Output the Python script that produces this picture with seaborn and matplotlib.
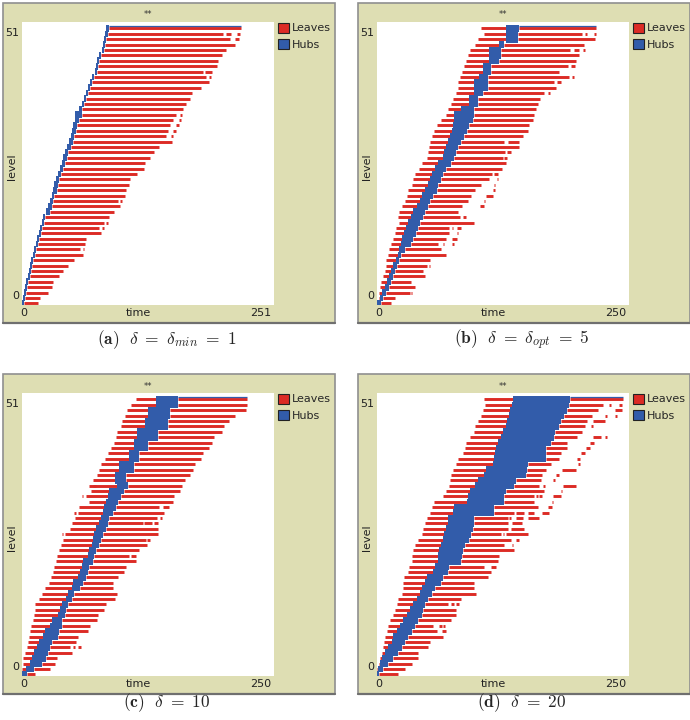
import numpy as np
import pandas as pd
import matplotlib
matplotlib.use("Agg")
import matplotlib.pyplot as plt
from matplotlib.patches import Rectangle, Patch
import seaborn as sns

# colours taken from the NetLogo plot
RED = '#DC2B25'
BLUE = '#325CAA'
KHAKI = '#DEDEB3'

# ---- panel (a): delta = delta_min = 1 (levels 0..51) ----
HUB_START_A = [0, 1, 2, 3, 4, 6, 7, 8, 9, 11, 12, 14, 15, 17, 18, 20, 21, 24, 26, 28, 30, 31, 32, 34, 36,
               38, 40, 41, 43, 45, 47, 49, 50, 51, 53, 53, 57, 60, 62, 64, 66, 68, 70, 73, 74, 75, 77, 80,
               81, 82, 83, 84]
HUB_END_A = [2, 3, 4, 5, 6, 8, 9, 10, 11, 13, 14, 16, 17, 19, 20, 22, 23, 28, 30, 31, 32, 35, 36, 37, 39,
             41, 43, 45, 46, 49, 51, 52, 54, 55, 57, 60, 60, 62, 64, 66, 68, 70, 72, 75, 76, 77, 79, 82,
             83, 84, 86, 87]
LEAF_END_A = [16, 18, 26, 30, 31, 37, 41, 46, 52, 61, 58, 63, 64, 79, 77, 82, 87, 92, 98, 96, 103, 104,
              107, 108, 115, 122, 123, 127, 131, 136, 149, 143, 145, 147, 150, 153, 160, 163, 167, 169,
              178, 186, 183, 180, 194, 195, 199, 203, 212, 207, 200, 218]
EXTRA_A = [(50, 203, 208), (50, 214, 217), (49, 212, 216), (43, 182, 189), (42, 186, 188),
           (35, 157, 159), (34, 156, 158), (33, 153, 156), (32, 150, 153), (31, 148, 150),
           (19, 98, 100), (15, 84, 86), (14, 80, 82), (10, 61, 62)]

# ---- panel (b): delta = delta_opt = 5 ----
LEFT_B = [0, 2, 2, 3, 4, 6, 8, 9, 9, 11, 12, 14, 16, 18, 19, 22, 21, 22, 25, 28, 30, 31, 35, 36, 38, 42,
          45, 50, 51, 52, 53, 55, 57, 60, 63, 68, 70, 73, 75, 78, 80, 80, 82, 84, 86, 88, 90, 92, 97, 100,
          106, 103]
HUB_START_B = [0, 3, 5, 8, 10, 12, 14, 16, 19, 21, 22, 24, 25, 27, 29, 31, 34, 36, 40, 43, 45, 48, 51, 53,
               55, 58, 61, 65, 66, 68, 70, 72, 74, 75, 76, 76, 83, 91, 91, 96, 96, 96, 101, 105, 105, 111,
               111, 111, 121, 128, 128, 128]
HUB_END_B = [4, 6, 9, 12, 14, 16, 18, 20, 22, 24, 28, 34, 36, 39, 41, 43, 46, 48, 51, 53, 56, 60, 61, 63,
             65, 68, 73, 76, 78, 80, 83, 86, 89, 91, 95, 96, 96, 100, 100, 105, 110, 110, 110, 113, 113,
             121, 123, 123, 126, 140, 140, 141]
LEAF_END_B = [14, 18, 33, 38, 34, 48, 46, 50, 53, 68, 63, 61, 68, 71, 71, 96, 82, 80, 84, 90, 93, 97, 103,
              111, 114, 124, 128, 125, 127, 141, 126, 145, 150, 151, 155, 156, 158, 160, 162, 166, 178,
              176, 190, 181, 189, 197, 200, 191, 205, 216, 203, 217]
EXTRA_B = [(2, 34, 35), (7, 52, 53), (11, 65, 66), (11, 74, 76), (12, 74, 79), (13, 79, 80), (14, 74, 75),
           (14, 79, 83), (16, 85, 88), (18, 102, 106), (19, 106, 107), (20, 108, 115), (21, 115, 117),
           (22, 116, 117), (23, 119, 120), (24, 116, 120), (27, 126, 129), (28, 129, 133), (30, 130, 141),
           (39, 170, 172), (41, 179, 183), (42, 193, 195), (44, 192, 196), (47, 195, 200), (47, 204, 206),
           (50, 206, 208), (50, 215, 217)]

# ---- panel (c): delta = 10 ----
LEFT_C = [0, 0, 1, 1, 3, 5, 6, 7, 8, 9, 11, 12, 13, 13, 17, 20, 23, 27, 29, 31, 32, 34, 35, 37, 39, 41, 43,
          48, 50, 53, 56, 57, 66, 63, 68, 66, 70, 74, 76, 78, 82, 85, 88, 91, 93, 94, 98, 99, 102, 104, 108,
          113]
HUB_START_C = [0, 4, 8, 10, 12, 15, 17, 21, 23, 28, 30, 36, 38, 40, 44, 46, 50, 51, 56, 58, 60, 61, 65, 66,
               69, 70, 71, 73, 76, 78, 80, 81, 83, 85, 86, 94, 92, 92, 96, 96, 106, 106, 111, 111, 114, 114,
               122, 122, 125, 125, 133, 133]
HUB_END_C = [5, 12, 20, 24, 26, 28, 30, 36, 37, 40, 40, 43, 44, 46, 50, 52, 58, 61, 63, 65, 66, 70, 71, 73,
             76, 78, 80, 83, 85, 86, 90, 93, 95, 98, 101, 105, 103, 103, 111, 111, 116, 116, 125, 125, 135,
             135, 145, 145, 147, 147, 155, 155]
LEAF_END_C = [13, 28, 33, 35, 50, 48, 54, 56, 65, 67, 74, 75, 81, 83, 92, 94, 90, 90, 95, 101, 103, 113,
              106, 116, 124, 123, 135, 135, 120, 134, 141, 136, 150, 151, 157, 159, 162, 167, 170, 172, 178,
              180, 186, 188, 190, 198, 200, 205, 211, 222, 223, 223]
EXTRA_C = [(31, 140, 146), (29, 137, 139), (28, 121, 129), (28, 131, 135), (25, 124, 127), (22, 108, 113),
           (5, 51, 53), (5, 56, 59), (35, 70, 73), (33, 60, 61), (30, 52, 54), (26, 40, 41)]

# ---- panel (d): delta = 20 ----
LEFT_D = [0, 0, 2, 3, 5, 6, 7, 8, 10, 11, 13, 16, 18, 20, 21, 25, 26, 26, 27, 31, 32, 35, 35, 36, 38, 41,
          45, 46, 48, 50, 53, 55, 57, 65, 68, 71, 72, 73, 75, 78, 80, 85, 87, 88, 92, 96, 97, 100, 103, 105,
          107, 106]
HUB_START_D = [0, 1, 3, 5, 8, 11, 15, 16, 20, 23, 26, 30, 33, 36, 40, 43, 45, 48, 50, 56, 58, 61, 61, 62,
               63, 65, 66, 68, 70, 70, 75, 76, 89, 90, 92, 97, 100, 106, 108, 115, 116, 117, 118, 120, 123,
               125, 128, 129, 131, 132, 134, 135]
HUB_END_D = [2, 6, 11, 16, 21, 25, 28, 31, 35, 38, 41, 45, 46, 48, 51, 55, 58, 63, 65, 70, 71, 83, 84, 85,
             87, 91, 93, 95, 96, 96, 116, 116, 126, 126, 128, 136, 138, 148, 149, 150, 168, 168, 168, 173,
             176, 177, 181, 183, 186, 188, 190, 191]
LEAF_END_D = [21, 28, 35, 41, 41, 51, 53, 65, 60, 56, 73, 78, 78, 70, 83, 98, 96, 96, 110, 113, 106, 120,
              121, 136, 126, 133, 123, 130, 130, 130, 136, 160, 156, 156, 166, 161, 163, 164, 168, 173, 181,
              183, 188, 188, 198, 203, 206, 208, 213, 219, 224, 244]
EXTRA_D = [(35, 165, 167), (35, 185, 197), (34, 183, 184), (33, 158, 160), (33, 161, 164), (33, 175, 183),
           (32, 174, 175), (31, 170, 174), (30, 138, 146), (30, 150, 156), (30, 164, 171), (29, 131, 133),
           (29, 138, 145), (29, 150, 161), (28, 134, 144), (27, 133, 146), (26, 125, 126), (26, 128, 150),
           (25, 138, 141), (24, 134, 135), (20, 113, 118), (13, 73, 76), (13, 78, 81), (9, 62, 64),
           (9, 65, 67), (8, 64, 68), (50, 230, 232), (50, 240, 243), (49, 236, 243), (48, 226, 228),
           (48, 236, 238), (47, 214, 226), (46, 212, 214), (44, 214, 222), (44, 226, 228), (43, 211, 215),
           (42, 207, 211), (41, 202, 206), (40, 198, 201), (39, 199, 201), (38, 184, 197), (37, 178, 181),
           (36, 175, 177)]

X_MAX = [251, 250, 250, 250]
CAPTIONS = [r'$\mathbf{(a)}\ \ \delta\ =\ \delta_{min}\ =\ 1$',
            r'$\mathbf{(b)}\ \ \delta\ =\ \delta_{opt}\ =\ 5$',
            r'$\mathbf{(c)}\ \ \delta\ =\ 10$',
            r'$\mathbf{(d)}\ \ \delta\ =\ 20$']

W, H = 690, 720


def fx(x):
    return x / W


def fy(y):
    return 1 - y / H


def leaf_segments(left, hub_s, hub_e, leaf_e, extra):
    # every leaf segment = 2 rows (start, end) with its own unit id
    rows = []
    seg = 0
    for lev in range(len(hub_s)):
        if left is not None and left[lev] < hub_s[lev]:
            rows += [(left[lev], lev, seg), (hub_s[lev], lev, seg)]
            seg += 1
        rows += [(hub_e[lev], lev, seg), (leaf_e[lev], lev, seg)]
        seg += 1
    for lev, a, b in extra:
        rows += [(a, lev, seg), (b, lev, seg)]
        seg += 1
    return pd.DataFrame(rows, columns=['time', 'level', 'seg'])


def draw_panel(fig, x0, y0, data, xmax, caption, cap_y):
    pw, ph = 252, 283
    # khaki NetLogo frame
    frame = Rectangle((fx(x0 - 19), fy(y0 + ph + 18)), 332 / W, (ph + 37) / H,
                      transform=fig.transFigure, fc=KHAKI, ec='#8f8f8f', lw=1.2, zorder=-5)
    fig.patches.append(frame)
    # darker shadow along the bottom edge of the frame
    fig.lines.append(plt.Line2D([fx(x0 - 19), fx(x0 + 313)], [fy(y0 + ph + 18)] * 2,
                                transform=fig.transFigure, color='#6f6f6f', lw=1.6, zorder=-4))

    ax = fig.add_axes([fx(x0), fy(y0 + ph), pw / W, ph / H])
    ax.set_facecolor('white')
    left, hub_s, hub_e, leaf_e, extra = data
    leaves = leaf_segments(*data)
    sns.lineplot(data=leaves, x='time', y='level', units='seg', estimator=None, sort=False,
                 color=RED, linewidth=2.1, solid_capstyle='butt', legend=False, ax=ax)
    # hubs: one block per level, slightly taller than a level so neighbours join without seams
    for lev in range(len(hub_s)):
        ax.broken_barh([(hub_s[lev], hub_e[lev] - hub_s[lev])], (lev - 0.62, 1.24),
                       facecolors=BLUE, edgecolor='none', antialiased=False, zorder=3)
    # thin hub line along the top level
    top = len(hub_e) - 1
    ax.plot([hub_e[top], leaf_e[top]], [top + 0.4, top + 0.4], color=BLUE, lw=0.9,
            solid_capstyle='butt', zorder=3)

    ax.set_xlim(0, xmax)
    ax.set_ylim(-0.3, 52.2)
    ax.set_xticks([])
    ax.set_yticks([])
    ax.set_xlabel('')
    ax.set_ylabel('')
    for sp in ax.spines.values():
        sp.set_visible(False)

    lab = dict(fontsize=8, color='#222222')
    fig.text(fx(x0 + 126), fy(y0 - 7), '**', ha='center', va='center', fontsize=6, color='#333333')
    fig.text(fx(x0 - 3), fy(y0 + 11), '51', ha='right', va='center', **lab)
    fig.text(fx(x0 - 3), fy(y0 + 274), '0', ha='right', va='center', **lab)
    fig.text(fx(x0 - 10), fy(y0 + 145), 'level', ha='center', va='center', rotation=90, **lab)
    fig.text(fx(x0 + 2), fy(y0 + 291), '0', ha='center', va='center', **lab)
    fig.text(fx(x0 + 116), fy(y0 + 291), 'time', ha='center', va='center', **lab)
    fig.text(fx(x0 + 249), fy(y0 + 291), str(xmax), ha='right', va='center', **lab)

    handles = [Patch(facecolor=RED, edgecolor='#222222', lw=0.8, label='Leaves'),
               Patch(facecolor=BLUE, edgecolor='#222222', lw=0.8, label='Hubs')]
    ax.legend(handles=handles, loc='upper left', bbox_to_anchor=(1.012, 1.0), frameon=False,
              handlelength=1.0, handleheight=1.0, handletextpad=0.3, borderaxespad=0,
              borderpad=0.05, labelspacing=0.55, fontsize=8)

    fig.text(fx(x0 + 145), fy(cap_y), caption, ha='center', va='center', fontsize=12.5)


def main():
    sns.set_style('white')
    plt.rcParams['font.family'] = ['DejaVu Sans']
    plt.rcParams['mathtext.fontset'] = 'cm'

    fig = plt.figure(figsize=(6.9, 7.2), dpi=100)
    fig.patch.set_facecolor('white')

    panels = [
        (22, 22, (None, HUB_START_A, HUB_END_A, LEAF_END_A, EXTRA_A), 340),
        (377, 22, (LEFT_B, HUB_START_B, HUB_END_B, LEAF_END_B, EXTRA_B), 340),
        (22, 393, (LEFT_C, HUB_START_C, HUB_END_C, LEAF_END_C, EXTRA_C), 703),
        (377, 393, (LEFT_D, HUB_START_D, HUB_END_D, LEAF_END_D, EXTRA_D), 703),
    ]
    for i, (x0, y0, data, cap_y) in enumerate(panels):
        draw_panel(fig, x0, y0, data, X_MAX[i], CAPTIONS[i], cap_y)

    fig.savefig('out.png', dpi=100)
    plt.close(fig)


if __name__ == '__main__':
    main()
